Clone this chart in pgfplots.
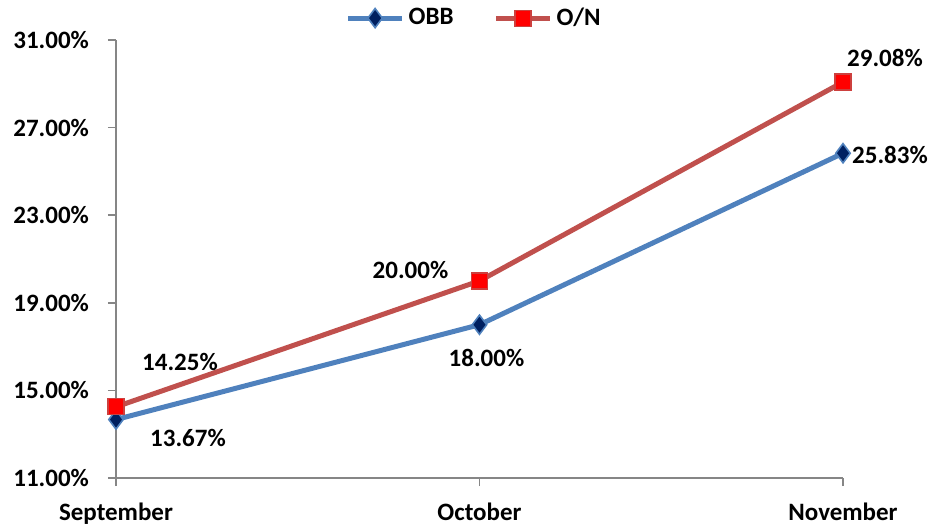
\documentclass[border=0pt]{standalone}
\usepackage{fontspec}
\setmainfont{Carlito}
\usepackage{pgfplots}
\pgfplotsset{compat=1.18}
\definecolor{obbline}{RGB}{79,129,189}
\definecolor{obbfill}{RGB}{0,32,96}
\definecolor{online}{RGB}{192,80,77}
\definecolor{onfill}{RGB}{255,0,0}
\definecolor{axgray}{RGB}{134,134,134}
\begin{document}
\begin{tikzpicture}[font=\fontsize{12.5}{14}\selectfont\bfseries]
\useasboundingbox (-58pt,-24.5pt) rectangle (412pt,239pt);
\begin{axis}[
    scale only axis,
    width=363.5pt, height=219pt,
    xmin=0, xmax=2, ymin=11, ymax=31,
    axis x line=bottom, axis y line=left,
    axis line style={axgray, line width=0.8pt, -},
    xtick={0,1,2},
    xticklabels={September,October,November},
    ytick={11,15,19,23,27,31},
    yticklabels={11.00\%,15.00\%,19.00\%,23.00\%,27.00\%,31.00\%},
    tick style={axgray, line width=0.8pt},
    tick align=outside,
    major tick length=4pt,
    xticklabel style={yshift=-5pt},
    yticklabel style={xshift=-6pt},
    clip=false,
    legend columns=2,
    legend style={draw=none, fill=none, at={(0.494,1.05)}, anchor=center,
        /tikz/every even column/.append style={column sep=18pt}},
    legend image code/.code={
        \draw[#1, mark=none] (0pt,0pt) -- (27pt,0pt);
        \draw[#1, only marks] plot coordinates {(13.5pt,0pt)};
    },
]
\addplot[obbline, line width=2.5pt, mark=diamond*, mark size=4.8pt,
    mark options={fill=obbfill, draw=obbline, line width=0.8pt}]
    coordinates {(0,13.67) (1,18.00) (2,25.83)};
\addlegendentry{OBB}
\addplot[online, line width=2.5pt, mark=square*, mark size=4pt,
    mark options={fill=onfill, draw=online!80!red, line width=0.6pt}]
    coordinates {(0,14.25) (1,20.00) (2,29.08)};
\addlegendentry{O/N}
\node at ([shift={(32pt,22.5pt)}]axis cs:0,14.25) {14.25\%};
\node at ([shift={(36pt,-9pt)}]axis cs:0,13.67) {13.67\%};
\node at ([shift={(-34.5pt,5.5pt)}]axis cs:1,20.00) {20.00\%};
\node at ([shift={(3.5pt,-16.5pt)}]axis cs:1,18.00) {18.00\%};
\node at ([shift={(21pt,12pt)}]axis cs:2,29.08) {29.08\%};
\node at ([shift={(23.5pt,-1pt)}]axis cs:2,25.83) {25.83\%};
\end{axis}
\end{tikzpicture}
\end{document}
